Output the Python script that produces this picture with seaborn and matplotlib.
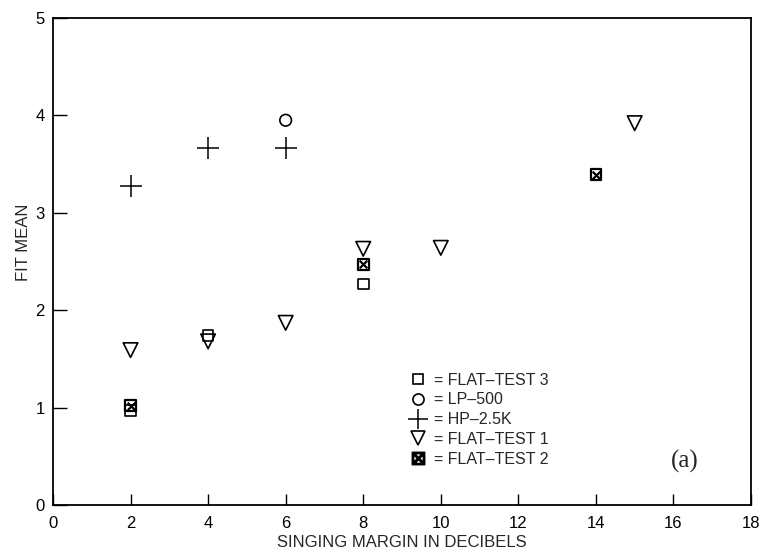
import matplotlib
matplotlib.use("Agg")
import matplotlib.pyplot as plt
from matplotlib.lines import Line2D
import seaborn as sns
import pandas as pd

# Measured points per test condition
flat3_x = [2, 4, 8]
flat3_y = [0.97, 1.74, 2.27]

lp500_x = [6]
lp500_y = [3.95]

hp25k_x = [2, 4, 6]
hp25k_y = [3.28, 3.67, 3.67]

flat1_x = [2, 4, 6, 8, 10, 15]
flat1_y = [1.59, 1.68, 1.87, 2.63, 2.64, 3.92]

flat2_x = [2, 8, 14]
flat2_y = [1.02, 2.47, 3.39]

series_names = ["FLAT\u2013TEST 3", "LP\u2013500", "HP\u20132.5K", "FLAT\u2013TEST 1", "FLAT\u2013TEST 2"]
x_ticks = [0, 2, 4, 6, 8, 10, 12, 14, 16, 18]
y_ticks = [0, 1, 2, 3, 4, 5]

sns.set_theme(style="white")
plt.rcParams["font.family"] = ["Liberation Sans Narrow", "Liberation Sans", "DejaVu Sans"]

fig = plt.figure(figsize=(7.61, 5.55), dpi=100)
ax = fig.add_axes([0.0696, 0.0901, 0.9173, 0.8775])

frames = {
    series_names[0]: pd.DataFrame({"x": flat3_x, "y": flat3_y}),
    series_names[1]: pd.DataFrame({"x": lp500_x, "y": lp500_y}),
    series_names[2]: pd.DataFrame({"x": hp25k_x, "y": hp25k_y}),
    series_names[3]: pd.DataFrame({"x": flat1_x, "y": flat1_y}),
    series_names[4]: pd.DataFrame({"x": flat2_x, "y": flat2_y}),
}

hollow = dict(facecolor="none", edgecolor="black", linewidth=1.2)

sns.scatterplot(data=frames[series_names[0]], x="x", y="y", marker="s", s=60, ax=ax, **hollow)
sns.scatterplot(data=frames[series_names[1]], x="x", y="y", marker="o", s=70, ax=ax, **hollow)
sns.scatterplot(data=frames[series_names[2]], x="x", y="y", marker="+", s=240, color="black",
                linewidth=1.1, ax=ax)
sns.scatterplot(data=frames[series_names[3]], x="x", y="y", marker="v", s=110, ax=ax, **hollow)
sns.scatterplot(data=frames[series_names[4]], x="x", y="y", marker="s", s=60, ax=ax,
                facecolor="none", edgecolor="black", linewidth=1.6)
sns.scatterplot(data=frames[series_names[4]], x="x", y="y", marker="x", s=30, color="black",
                linewidth=1.6, ax=ax)

ax.set_xlim(0, 18)
ax.set_ylim(0, 5)
ax.set_xticks(x_ticks)
ax.set_yticks(y_ticks)
ax.set_xticklabels([str(t) for t in x_ticks], fontsize=12)
ax.set_yticklabels([str(t) for t in y_ticks], fontsize=12)
ax.tick_params(axis="x", direction="in", length=8, width=1, pad=8, bottom=True, top=False, colors="black")
ax.tick_params(axis="y", direction="in", length=10, width=1, pad=6, left=True, right=False, colors="black")
for sp in ax.spines.values():
    sp.set_color("black")
    sp.set_linewidth(1.3)

ax.set_xlabel("SINGING MARGIN IN DECIBELS", fontsize=12, labelpad=3)
ax.set_ylabel("FIT MEAN", fontsize=12)
ax.yaxis.set_label_coords(-0.031, 0.54)

# Legend with "= NAME" labels
handles = [
    Line2D([], [], linestyle="none", marker="s", markersize=7, markerfacecolor="none", markeredgecolor="black", markeredgewidth=1.2),
    Line2D([], [], linestyle="none", marker="o", markersize=8, markerfacecolor="none", markeredgecolor="black", markeredgewidth=1.2),
    Line2D([], [], linestyle="none", marker="+", markersize=14, markeredgecolor="black", markeredgewidth=1.1),
    Line2D([], [], linestyle="none", marker="v", markersize=10, markerfacecolor="none", markeredgecolor="black", markeredgewidth=1.2),
    Line2D([], [], linestyle="none", marker="$\u22A0$", markersize=9, color="black"),
]
labels = ["= " + n for n in series_names]
ax.legend(handles, labels, loc="lower left", bbox_to_anchor=(0.50, 0.062), frameon=False,
          fontsize=11.5, handlelength=1.0, handletextpad=0.5, labelspacing=0.3, borderpad=0)

ax.text(0.885, 0.09, "(a)", transform=ax.transAxes, fontsize=18, family="Liberation Serif",
        ha="left", va="center")

fig.savefig("out.png", dpi=100)
